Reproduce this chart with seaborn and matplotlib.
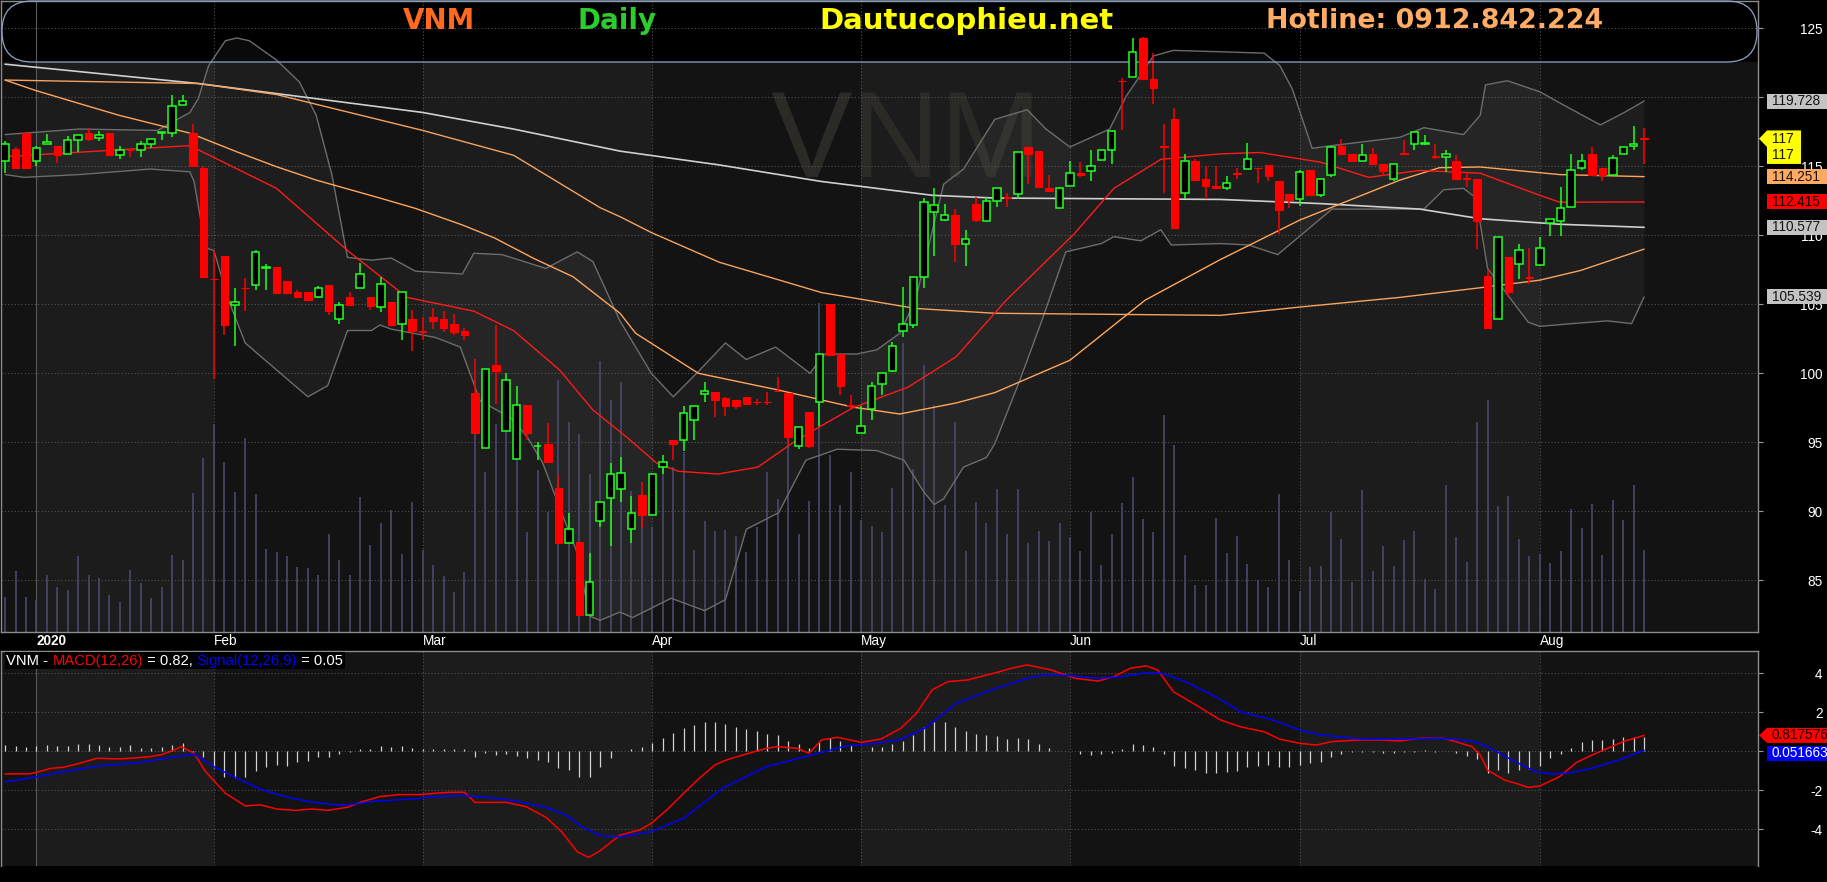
import numpy as np
import matplotlib
matplotlib.use("Agg")
import matplotlib.pyplot as plt
import seaborn as sns
from matplotlib import font_manager, transforms
from matplotlib.patches import FancyBboxPatch, Polygon, Rectangle

# ---------------- data ----------------
ticker = "VNM"
month_idx = [3, 20, 40, 62, 82, 102, 124, 147]
month_lbl = ["2020", "Feb", "Mar", "Apr", "May", "Jun", "Jul", "Aug"]

opens = [115.4, 116.25, 117.4, 115.4, 116.6, 116.5, 115.9, 116.9, 117.4, 117.05,
         117.4, 115.8, 116.2, 116.2, 116.6, 117.4, 117.4, 119.45, 117.4, 114.9,
         106.85, 108.5, 104.95, 106.2, 106.4, 107.65, 107.7, 106.7, 105.9, 105.9,
         105.5, 106.4, 103.9, 105.55, 106.2, 105.5, 104.8, 105.2, 103.6, 103.9,
         103.05, 104.1, 103.9, 103.6, 103.1, 98.6, 94.6, 100.6, 95.8, 93.8,
         97.7, 94.7, 94.85, 91.7, 87.7, 87.8, 82.5, 89.3, 91.0, 91.65,
         88.7, 91.2, 89.7, 93.2, 95.15, 95.2, 96.6, 98.5, 98.65, 98.2,
         98.1, 98.3, 97.95, 97.95, 98.75, 98.6, 94.7, 97.2, 97.9, 105.05,
         101.4, 97.7, 95.65, 97.4, 99.25, 100.2, 103.05, 103.5, 107.0, 111.7,
         111.1, 111.5, 109.4, 112.3, 111.0, 112.5, 112.75, 113.0, 116.4, 116.1,
         113.45, 111.95, 113.55, 114.55, 114.65, 115.45, 116.2, 121.2, 121.45, 124.3,
         121.35, 116.45, 118.4, 113.05, 115.4, 114.1, 113.6, 113.45, 114.5, 114.8,
         114.9, 115.1, 113.9, 113.0, 112.6, 114.75, 112.95, 114.4, 116.5, 115.9,
         115.4, 115.9, 115.2, 114.1, 115.95, 116.65, 116.65, 115.75, 115.65, 115.35,
         114.15, 114.1, 107.05, 103.9, 108.4, 107.9, 106.95, 107.85, 110.9, 111.05,
         112.05, 114.9, 115.9, 114.85, 114.4, 115.9, 116.5, 117.05]
highs = [116.8, 116.4, 117.4, 116.5, 117.35, 116.5, 117.2, 117.25, 117.8, 117.55,
         117.4, 116.5, 116.25, 116.85, 117.0, 117.45, 120.2, 120.2, 118.1, 115.0,
         108.9, 108.5, 106.2, 106.9, 108.9, 107.9, 107.7, 106.7, 106.05, 105.9,
         106.3, 106.4, 105.2, 105.9, 108.0, 105.5, 107.0, 105.2, 105.9, 104.6,
         104.1, 104.7, 104.5, 104.3, 103.3, 101.0, 100.3, 103.5, 100.0, 99.1,
         97.7, 95.0, 96.4, 92.6, 89.9, 87.8, 87.0, 90.7, 93.5, 93.95,
         91.1, 92.1, 92.7, 94.1, 95.15, 97.6, 97.6, 99.4, 98.65, 98.3,
         98.1, 98.3, 98.15, 98.65, 99.75, 98.6, 96.1, 97.2, 101.4, 105.05,
         101.4, 98.4, 97.6, 99.4, 100.05, 102.3, 106.25, 107.0, 112.7, 113.4,
         112.3, 111.9, 110.4, 112.8, 112.8, 113.45, 113.1, 116.0, 116.4, 116.1,
         114.4, 113.5, 115.4, 115.3, 116.2, 116.2, 117.55, 121.4, 124.3, 124.35,
         123.2, 118.1, 119.2, 115.9, 115.55, 115.0, 115.0, 114.3, 114.85, 116.7,
         114.9, 115.1, 113.9, 113.0, 114.75, 114.75, 114.05, 116.45, 117.0, 115.9,
         116.6, 116.3, 115.2, 115.15, 116.9, 117.45, 117.25, 116.6, 116.2, 115.85,
         114.5, 114.1, 107.5, 109.85, 108.4, 109.4, 109.05, 109.85, 111.2, 113.5,
         115.9, 115.9, 116.4, 114.85, 115.8, 116.4, 117.9, 117.8]
lows = [114.5, 114.9, 114.9, 115.0, 116.6, 115.25, 115.9, 116.0, 116.85, 116.85,
        115.8, 115.55, 115.7, 115.7, 116.3, 116.9, 117.1, 119.45, 115.0, 107.0,
        99.6, 102.8, 102.0, 104.5, 106.0, 106.0, 105.8, 105.8, 105.55, 105.3,
        105.45, 104.2, 103.6, 104.95, 106.2, 104.6, 104.45, 103.5, 102.4, 101.6,
        102.4, 103.2, 103.0, 102.8, 102.4, 95.7, 94.6, 97.8, 95.8, 93.8,
        95.2, 93.7, 93.6, 87.7, 87.7, 82.5, 82.5, 88.85, 87.5, 90.7,
        87.7, 88.8, 89.7, 92.7, 93.7, 94.4, 95.2, 97.9, 96.8, 96.9,
        97.4, 97.8, 97.7, 97.7, 98.7, 94.9, 94.5, 94.6, 96.2, 101.3,
        98.4, 97.6, 95.65, 96.6, 98.4, 100.1, 102.6, 103.25, 106.2, 108.5,
        111.05, 108.1, 107.8, 110.95, 111.0, 112.05, 112.05, 112.6, 113.7, 113.5,
        113.2, 111.95, 113.55, 114.25, 113.9, 115.45, 115.2, 117.6, 121.45, 121.25,
        119.5, 113.1, 110.5, 112.6, 113.9, 112.6, 113.45, 113.3, 114.1, 114.8,
        113.8, 113.9, 110.1, 112.0, 112.1, 112.95, 112.8, 114.2, 115.9, 115.4,
        115.4, 115.2, 114.3, 113.9, 115.9, 116.2, 116.55, 115.5, 114.6, 114.05,
        113.5, 109.0, 103.3, 103.9, 105.55, 106.8, 106.5, 107.8, 109.95, 109.95,
        112.05, 114.7, 114.4, 113.95, 114.4, 115.9, 116.2, 115.2]
closes = [116.6, 114.9, 114.9, 116.3, 116.75, 115.8, 116.9, 117.25, 117.0, 117.3,
          115.8, 116.2, 116.15, 116.6, 117.0, 117.45, 119.4, 119.7, 115.0, 107.0,
          106.8, 103.5, 105.2, 106.15, 108.8, 107.7, 105.8, 105.8, 105.55, 105.3,
          106.2, 104.5, 104.95, 104.95, 107.2, 104.9, 106.5, 103.5, 105.9, 103.1,
          103.0, 103.8, 103.3, 103.0, 102.75, 95.7, 100.3, 100.2, 99.5, 97.7,
          95.7, 94.75, 93.6, 87.7, 88.7, 82.5, 84.9, 90.7, 92.7, 92.75,
          89.85, 89.7, 92.7, 93.6, 94.85, 97.1, 97.6, 98.7, 98.1, 97.65,
          97.6, 97.8, 97.9, 97.9, 98.7, 95.4, 96.1, 94.7, 101.4, 101.3,
          99.1, 97.6, 96.2, 99.1, 100.05, 101.95, 103.55, 107.0, 112.4, 112.2,
          111.5, 109.4, 109.75, 111.1, 112.45, 113.45, 112.7, 116.0, 115.9, 113.5,
          113.2, 113.45, 114.55, 114.4, 115.05, 116.2, 117.55, 121.15, 123.3, 121.3,
          120.65, 116.4, 110.5, 115.4, 114.0, 113.6, 113.45, 113.8, 114.45, 115.5,
          114.85, 114.3, 111.8, 112.55, 114.6, 112.95, 114.05, 116.4, 115.9, 115.4,
          115.85, 115.2, 114.65, 115.15, 115.9, 117.45, 116.7, 115.7, 115.9, 114.05,
          114.1, 111.0, 103.3, 109.85, 105.9, 108.9, 106.9, 109.1, 111.2, 112.0,
          114.7, 115.4, 114.4, 114.4, 115.6, 116.4, 116.65, 117.0]
# volume, million shares
volumes = [0.70, 1.22, 0.70, 0.64, 1.14, 0.90, 0.84, 1.52, 1.14, 1.08,
           0.74, 0.60, 1.24, 0.98, 0.68, 0.90, 1.54, 1.44, 2.78, 3.48,
           4.16, 3.40, 2.80, 3.88, 2.76, 1.66, 1.60, 1.52, 1.30, 1.28,
           1.14, 1.96, 1.44, 1.14, 2.70, 1.74, 2.18, 2.44, 1.56, 2.60,
           1.64, 1.34, 1.12, 0.80, 1.20, 4.40, 3.20, 4.16, 4.20, 3.50,
           2.00, 3.24, 2.40, 5.04, 4.20, 3.96, 3.16, 5.42, 4.64, 5.00,
           2.82, 2.80, 2.10, 3.30, 3.30, 3.60, 1.64, 2.22, 2.02, 2.04,
           1.92, 1.60, 2.10, 3.20, 2.66, 3.86, 1.96, 2.62, 6.58, 3.54,
           2.54, 3.20, 2.24, 2.12, 2.00, 2.88, 5.78, 3.26, 5.34, 4.54,
           2.54, 4.20, 1.62, 2.60, 2.18, 2.86, 1.96, 2.86, 1.78, 2.02,
           1.82, 2.18, 1.90, 1.62, 2.40, 1.34, 1.96, 2.58, 3.10, 2.26,
           2.00, 4.34, 3.74, 1.54, 0.94, 0.94, 2.28, 1.58, 1.92, 1.36,
           1.04, 0.90, 2.76, 1.44, 0.82, 1.30, 1.32, 2.40, 1.86, 1.00,
           2.84, 1.22, 1.72, 1.32, 1.84, 2.02, 1.06, 0.86, 2.94, 1.90,
           1.40, 4.20, 4.64, 2.52, 2.72, 1.86, 1.52, 1.56, 1.38, 1.62,
           2.46, 2.08, 2.56, 1.54, 2.64, 2.24, 2.94, 1.64]
vol_axis_top = 12.62

ma20_idx = [0, 17.7, 18.5, 26, 32.8, 38.5, 44.9, 48.7, 53.1, 56.3, 59.5, 62.4, 64.5, 68.3, 72.1,
            75.9, 81.2, 86.5, 91.1, 95.9, 102.4, 106.2, 110.7, 116.4, 120.2, 126, 130.6, 135.5,
            141.3, 147, 148.9, 157]
ma20_val = [115.7, 116.5, 116.2, 113.4, 108.9, 105.5, 104.5, 103.1, 100.25, 97.35, 95.4, 93.5, 92.9, 92.7, 93.2,
            95.2, 97.5, 99.0, 101.2, 105.3, 110.1, 113.4, 115.5, 115.9, 116.0, 115.3, 114.2, 114.7,
            114.5, 112.9, 112.4, 112.415]
ma50_idx = [0, 2.9, 7.1, 10.9, 14.6, 17.7, 22.2, 26, 29.8, 35.9, 39.3, 43.8, 46.9, 50.7, 54.4,
            58.9, 60.4, 66.4, 74, 81.2, 85.7, 91.1, 94.8, 102, 109.2, 116.3, 124, 133.6, 137.4,
            141.3, 148.9, 157]
ma50_val = [121.25, 120.5, 119.55, 118.7, 118.0, 117.4, 116.05, 114.97, 114.0, 112.7, 111.95, 110.75,
            109.8, 108.3, 107.0, 104.35, 102.9, 100.0, 98.8, 97.55, 97.05, 97.85, 98.6, 100.95,
            105.3, 108.2, 111.1, 114.0, 114.9, 114.95, 114.4, 114.251]
ma100_idx = [0, 18.5, 26, 40, 48.7, 57, 58.9, 61.9, 68.4, 78.2, 87.2, 94.8, 116.4, 124, 133.6,
             141.3, 147, 150.9, 157]
ma100_val = [121.25, 121.0, 120.2, 117.6, 115.8, 112.0, 111.35, 110.2, 108.05, 105.85, 104.7, 104.35,
             104.2, 104.8, 105.5, 106.2, 106.75, 107.45, 109.0]
ma200_idx = [0, 18.5, 29.8, 40, 48.7, 58.9, 68.4, 78.2, 88.8, 94.8, 116.4, 125.9, 135.5, 141.3,
             148.9, 157]
ma200_val = [122.4, 121.0, 119.9, 118.9, 117.7, 116.1, 115.1, 113.9, 112.9, 112.7, 112.6, 112.3,
             111.9, 111.2, 110.8, 110.577]
bbu_idx = [0, 7.1, 14.6, 17.7, 18.5, 19.5, 21.1, 22.2, 23.4, 26, 28.2, 29.8, 31.3, 32.8, 35.1,
           37, 39.3, 43.8, 44.9, 47.6, 51.8, 54.8, 56.3, 58.9, 61.9, 64, 66.5, 69, 71, 73.8,
           77.1, 78.5, 81.6, 83.5, 85.7, 87.2, 89.9, 91.8, 94.8, 97.9, 99.7, 102, 105.8, 107.4,
           110, 111.9, 116.4, 120.6, 122.1, 123.3, 125.2, 127.1, 133.6, 135.9, 139.7, 141.3,
           141.8, 143.9, 147, 148.9, 152.8, 155.1, 157]
bbu_val = [117.3, 117.7, 117.6, 118.9, 119.9, 122.3, 124.1, 124.3, 124.1, 122.7, 121.1, 118.7,
           114.4, 108.4, 108.2, 108.35, 107.4, 107.2, 108.7, 108.6, 107.6, 108.8, 108.1, 103.8,
           100.0, 98.3, 100.2, 102.2, 101.0, 101.9, 100.0, 101.4, 101.4, 101.7, 102.9, 105.3,
           113.7, 114.8, 118.4, 119.1, 117.7, 116.4, 117.7, 120.1, 123.0, 123.4, 123.3, 123.2,
           122.3, 120.6, 116.3, 116.5, 117.1, 117.8, 117.3, 118.7, 120.9, 121.2, 120.4, 119.6,
           118.0, 118.9, 119.728]
bbl_idx = [0, 1.8, 7.1, 13.9, 17.7, 18.1, 19.2, 20, 21.4, 23, 25.3, 29, 30.9, 32.8, 35.1, 35.9,
           37, 41.2, 43.6, 45.5, 48.4, 50, 51.5, 53.1, 54.7, 56, 57, 58.9, 60.1, 63.8, 67, 69,
           71, 74.1, 76.7, 79.7, 83.5, 86.1, 88, 89, 89.9, 91.8, 94, 94.8, 97.1, 99.3, 101.6,
           105, 106.2, 108.8, 110.7, 111.7, 116.4, 119.1, 121.9, 127.1, 135.9, 137.8, 139.7,
           140.9, 142, 144.3, 145.9, 147, 150.1, 153.5, 155.8, 157]
bbl_val = [114.4, 114.2, 114.4, 114.8, 114.6, 113.9, 109.1, 108.9, 105.3, 102.2, 100.7, 98.3,
           99.1, 103.1, 103.1, 103.5, 103.2, 102.6, 101.9, 98.0, 96.8, 95.4, 93.5, 90.3, 87.2,
           82.4, 82.1, 82.7, 82.3, 83.7, 82.8, 83.6, 88.7, 89.9, 93.7, 94.5, 94.4, 93.7, 91.4,
           90.5, 90.9, 93.2, 93.9, 94.9, 99.3, 103.8, 108.8, 109.4, 109.9, 109.6, 110.4, 109.3,
           109.4, 109.3, 108.6, 111.9, 111.9, 113.3, 113.4, 112.7, 107.6, 105.3, 103.7, 103.4,
           103.6, 103.8, 103.6, 105.539]

macd_now, signal_now = 0.817576, 0.051663
macd_idx = [0, 2.2, 2.9, 4.4, 5.6, 7.1, 8.8, 10.9, 12, 13.9, 15, 16.2, 16.9, 18.1, 19.2, 21.1,
            23, 24.5, 26, 27.9, 29.4, 30.9, 32.8, 34, 35.9, 37.8, 39.7, 41.2, 42.7, 44, 45, 48,
            49.9, 51.8, 53.3, 54.8, 55.9, 57, 58.9, 60.8, 61.9, 63.4, 65, 66.5, 68, 69.1, 71,
            72.9, 74, 75.9, 77, 78.2, 79.7, 82, 83.9, 85.8, 87.3, 88.8, 90.3, 92.2, 94.9, 96.4,
            97.9, 100.2, 102.5, 104.7, 106.2, 107.8, 109.3, 110.4, 111.9, 113.8, 116.4, 118.3,
            120.6, 122.1, 124, 125.6, 127.1, 129.8, 131.7, 133.6, 135.5, 137.8, 138.9, 140.5,
            141.3, 142, 143.6, 144.7, 145.9, 147, 148.9, 150.5, 152, 153.5, 155, 157]
macd_val = [-1.16, -1.16, -1.1, -0.87, -0.82, -0.62, -0.36, -0.39, -0.36, -0.27, -0.17, 0.07, 0.24,
            -0.1, -1.04, -2.15, -2.8, -2.75, -2.96, -3.03, -2.96, -3.03, -2.87, -2.62, -2.32,
            -2.22, -2.22, -2.15, -2.1, -2.1, -2.62, -2.62, -2.84, -3.38, -4.12, -5.15, -5.44,
            -5.1, -4.3, -4.03, -3.69, -3.0, -2.15, -1.38, -0.7, -0.44, -0.14, 0.15, 0.24, 0.15,
            -0.1, 0.58, 0.72, 0.46, 0.63, 1.18, 1.95, 3.15, 3.57, 3.66, 4.03, 4.26, 4.43, 4.17,
            3.74, 3.6, 3.83, 4.26, 4.38, 4.17, 3.06, 2.46, 1.61, 1.26, 1.0, 0.62, 0.41, 0.32,
            0.5, 0.58, 0.58, 0.53, 0.67, 0.67, 0.5, 0.24, -0.19, -0.96, -1.47, -1.64, -1.85,
            -1.78, -1.3, -0.58, -0.19, 0.15, 0.5, macd_now]
signal_idx = [0, 2.9, 5.2, 9, 12.8, 15.4, 18.1, 20, 22.2, 24.5, 26.8, 29.1, 31.7, 32.8, 35.1,
              37.4, 39.7, 41.2, 44, 46.9, 48.7, 51.8, 53.7, 55.2, 57.1, 58.9, 61.9, 65, 68.7,
              72.9, 76.7, 80.5, 83.5, 85.8, 88.1, 91.1, 94.9, 97.9, 99.8, 102.5, 104.7, 107,
              109.3, 110.8, 113.1, 116.4, 118.3, 121.4, 124, 126, 129.8, 133.6, 137.4, 140.5,
              142, 144.3, 146.6, 148.1, 149.7, 152, 154.3, 157]
signal_val = [-1.57, -1.32, -1.09, -0.75, -0.58, -0.36, -0.14, -0.79, -1.38, -1.95, -2.32, -2.58,
              -2.75, -2.75, -2.58, -2.5, -2.41, -2.32, -2.27, -2.41, -2.53, -2.87, -3.26, -3.86,
              -4.34, -4.38, -4.12, -3.44, -1.9, -0.79, -0.27, 0.27, 0.41, 0.62, 1.18, 2.46, 3.23,
              3.74, 3.95, 3.86, 3.74, 3.83, 4.03, 4.0, 3.57, 2.67, 2.03, 1.61, 1.09, 0.84, 0.63,
              0.62, 0.67, 0.53, 0.24, -0.44, -1.04, -1.16, -1.13, -0.87, -0.5, signal_now]
hist = [0.31, 0.27, 0.24, 0.27, 0.31, 0.29, 0.29, 0.38, 0.38, 0.34,
        0.24, 0.24, 0.32, 0.19, 0.19, 0.24, 0.32, 0.43, -0.03, -0.27,
        -0.87, -1.3, -1.35, -1.3, -0.99, -0.79, -0.7, -0.75, -0.53, -0.5,
        -0.27, -0.27, -0.15, -0.03, 0.1, 0.12, 0.27, 0.2, 0.27, 0.17,
        0.14, 0.12, 0.14, 0.1, 0.12, -0.27, -0.1, -0.19, -0.14, -0.24,
        -0.34, -0.44, -0.53, -0.87, -0.96, -1.33, -1.33, -0.82, -0.36, 0.02,
        0.14, 0.2, 0.44, 0.7, 0.96, 1.2, 1.35, 1.52, 1.52, 1.4,
        1.26, 1.15, 1.04, 0.89, 0.84, 0.55, 0.38, 0.17, 0.48, 0.67,
        0.53, 0.32, 0.02, 0.2, 0.24, 0.39, 0.55, 0.84, 1.26, 1.5,
        1.5, 1.25, 1.04, 0.89, 0.82, 0.79, 0.65, 0.7, 0.65, 0.38,
        0.19, 0.02, 0.03, -0.14, -0.17, -0.14, -0.07, 0.12, 0.38, 0.32,
        0.24, -0.14, -0.74, -0.84, -0.97, -1.09, -1.09, -1.04, -0.99, -0.79,
        -0.74, -0.7, -0.79, -0.79, -0.7, -0.58, -0.53, -0.27, -0.14, -0.03,
        -0.03, -0.03, -0.07, -0.07, -0.03, -0.03, 0.07, -0.03, 0.0, -0.1,
        -0.22, -0.41, -1.09, -0.96, -1.13, -0.96, -0.92, -0.74, -0.36, -0.14,
        0.17, 0.48, 0.58, 0.58, 0.63, 0.72, 0.72, 0.75]

# ---------------- style ----------------
sns.set_theme(style="dark", rc={"figure.facecolor": "black", "axes.facecolor": "#1c1c1c",
                                "savefig.facecolor": "black"})
fonts = {f.name for f in font_manager.fontManager.ttflist}
NARROW = "Liberation Sans Narrow" if "Liberation Sans Narrow" in fonts else "Liberation Sans"
FS = 11.5 if NARROW.endswith("Narrow") else 9.8
plt.rcParams["font.family"] = [NARROW, "DejaVu Sans"]

GREEN, RED, BLUE = "#22ff22", "#ff0000", "#0000ff"
LIGHT, DARK = "#1c1c1c", "#131313"
GRID = "#525252"

W, H = 1827, 882
fig = plt.figure(figsize=(W / 100, H / 100), dpi=100, facecolor="black")


def px_rect(x0, y0, x1, y1):
    return [x0 / W, 1 - y1 / H, (x1 - x0) / W, (y1 - y0) / H]


ax = fig.add_axes(px_rect(1, 1, 1758, 632))
ax2 = fig.add_axes(px_rect(1, 651, 1758, 866), sharex=ax)

# bar i sits at pixel 36.4 + (i-3)*10.44 ; price p at 28.3 + (125-p)*13.8 ; macd v at 751.3 - 19.5 v
xlim = ((1 - 36.4) / 10.44 + 3, (1758 - 36.4) / 10.44 + 3)
ylim = (125 - (632 - 28.3) / 13.8, 125 + (28.3 - 1) / 13.8)
header_bottom = 125 - (62 - 28.3) / 13.8
ylim2 = (-(866 - 751.3) / 19.5, (751.3 - 651) / 19.5)

o, h, l, c = map(np.array, (opens, highs, lows, closes))
idx = np.arange(len(c))
up = c > o

# month shading
bounds = [xlim[0] - 1] + month_idx + [xlim[1] + 1]
for k in range(len(bounds) - 1):
    for a in (ax, ax2):
        a.axvspan(bounds[k], bounds[k + 1], color=DARK if k % 2 == 0 else LIGHT, lw=0, zorder=0.1)
ax.axhspan(header_bottom, ylim[1] + 5, color="black", lw=0, zorder=0.2)

ax.text(0.515, 0.772, ticker, transform=ax.transAxes, fontsize=88, color="#2b2a26",
        family="Liberation Sans", ha="center", va="center", zorder=0.3)

# volume
ax.vlines(idx, 0, np.array(volumes) / vol_axis_top, transform=ax.get_xaxis_transform(),
          color="#48486e", lw=1.2, zorder=1)

# bollinger fill + lines
ax.fill(np.r_[bbu_idx, bbl_idx[::-1]], np.r_[bbu_val, bbl_val[::-1]], color="white",
        alpha=0.045, lw=0, zorder=0.7)
for xs, ys, col, lw in [(bbu_idx, bbu_val, "#6c6c6c", 1.0), (bbl_idx, bbl_val, "#6c6c6c", 1.0),
                        (ma200_idx, ma200_val, "#cfcfcf", 1.2), (ma100_idx, ma100_val, "#f5a35f", 1.0),
                        (ma50_idx, ma50_val, "#ffa55a", 1.0), (ma20_idx, ma20_val, "#ff1a1a", 1.0)]:
    sns.lineplot(x=xs, y=ys, ax=ax, color=col, lw=lw, zorder=3)

# candles
ax.vlines(idx, l, h, colors=np.where(up, GREEN, RED), lw=1.1, zorder=4)
ax.bar(idx[up], (c - o)[up], bottom=o[up], width=0.72, facecolor="black",
       edgecolor=GREEN, lw=1.1, zorder=5)
ax.bar(idx[~up], (o - c)[~up], bottom=c[~up], width=0.72, facecolor=RED,
       edgecolor=RED, lw=0.8, zorder=5)

# header
bracket = FancyBboxPatch((2, H - 62), 1755, 61, boxstyle="round,pad=0,rounding_size=30",
                         transform=transforms.IdentityTransform(), fc="none", ec="#8ea4c8",
                         lw=0.9, zorder=4.5)
ax.add_artist(bracket)
bracket.set_clip_on(False)
for s, x, col, fs in [("VNM", 403, "#ff6a1f", 20), ("Daily", 577, "#2dcc2d", 20),
                      ("Dautucophieu.net", 819, "#ffff00", 21), ("Hotline: 0912.842.224", 1266, "#ffad66", 19.4)]:
    fig.text(x / W, 1 - 21 / H, s, color=col, fontsize=fs, fontweight="bold",
             family="DejaVu Sans", ha="left", va="center")

# MACD panel
ax2.vlines(idx, 0, hist, color="#d2d2d2", lw=0.9, zorder=2)
sns.lineplot(x=macd_idx, y=macd_val, ax=ax2, color=RED, lw=1.1, zorder=3)
sns.lineplot(x=signal_idx, y=signal_val, ax=ax2, color=BLUE, lw=1.1, zorder=3)

LFS = FS * 1.08
pieces = [(f"{ticker} - ", "white"), ("MACD(12,26)", RED), (f" = {macd_now:.2f}, ", "white"),
          ("Signal(12,26,9)", BLUE), (f" = {signal_now:.2f}", "white")]
t = ax2.text(0.003, 0.955, pieces[0][0], color=pieces[0][1], transform=ax2.transAxes,
             fontsize=LFS, ha="left", va="center", zorder=8,
             bbox=dict(boxstyle="square,pad=0.12", fc="black", ec="none"))
for s, col in pieces[1:]:
    t = ax2.annotate(s, xy=(1, 0.5), xycoords=t, color=col, fontsize=LFS, ha="left",
                     va="center", zorder=8, bbox=dict(boxstyle="square,pad=0.12", fc="black", ec="none"))

# axes, ticks, grid
for a in (ax, ax2):
    a.set_xlabel("")
    a.set_ylabel("")
    a.set_axisbelow(True)
    a.grid(True, color=GRID, linestyle=(0, (1, 2)), linewidth=0.8)
    for s in a.spines.values():
        s.set_color("#8c8c8c")
        s.set_linewidth(1.0)
    a.yaxis.tick_right()
    a.tick_params(axis="y", which="major", length=3.6, width=0.8, color="#9a9a9a",
                  labelcolor="white", labelsize=FS, pad=43)
ax2.spines["bottom"].set_visible(False)

ax.set_xticks(month_idx)
ax.set_xticklabels(month_lbl)
ax.tick_params(axis="x", length=0, labelcolor="white", labelsize=FS, pad=1.5)
ax2.tick_params(axis="x", length=0, labelbottom=False)
price_ticks = list(range(85, 126, 5))
macd_ticks = [-4, -2, 0, 2, 4]
ax.set_yticks(price_ticks)
# 120 and 0 sit fully behind the value boxes in the reference
ax.set_yticklabels(["" if v == 120 else str(v) for v in price_ticks])
ax2.set_yticks(macd_ticks)
ax2.set_yticklabels(["" if v == 0 else str(v) for v in macd_ticks])
for a in (ax, ax2):
    for lbl in a.get_yticklabels():
        lbl.set_horizontalalignment("right")
    a.get_xgridlines()[0].set_linestyle("-")
    a.get_xgridlines()[0].set_color("#5a5a5a")
for lbl in ax.get_xticklabels():
    lbl.set_horizontalalignment("left")
ax.get_xticklabels()[0].set_fontweight("bold")

# right-hand value labels
ytr = ax.get_yaxis_transform()
x_box, x_txt, box_w = (1767 - 1) / 1757, (1772 - 1) / 1757, 70 / 1757
for val, fc, tc in [(bbu_val[-1], "#c3c3c3", "#141414"), (ma50_val[-1], "#ffa862", "#141414"),
                    (ma20_val[-1], RED, "#140000"), (ma200_val[-1], "#c3c3c3", "#141414"),
                    (bbl_val[-1], "#c3c3c3", "#141414")]:
    ax.add_patch(Rectangle((x_box, val - 15 / 13.8 / 2), box_w, 15 / 13.8, transform=ytr,
                           fc=fc, ec="none", clip_on=False, zorder=6))
    ax.text(x_txt, val, f"{val:.3f}", transform=ytr, color=tc, fontsize=FS, ha="left",
            va="center", clip_on=False, zorder=7)

last = closes[-1]
x_tip, x_body, x_end = (1759 - 1) / 1757, (1767 - 1) / 1757, (1801 - 1) / 1757
ax.add_patch(Polygon([(x_tip, last), (x_body, last + 0.6), (x_end, last + 0.6), (x_end, last - 1.83),
                      (x_body, last - 1.83), (x_body, last - 0.6)], closed=True, transform=ytr,
                     fc="#ffff00", ec="none", clip_on=False, zorder=6))
for dy in (0, -1.2):
    ax.text(x_txt, last + dy, f"{last:g}", transform=ytr, color="#141414", fontsize=FS,
            ha="left", va="center", clip_on=False, zorder=7)

ytr2 = ax2.get_yaxis_transform()
bh = 15 / 19.5
ax2.add_patch(Polygon([(x_tip, macd_now), (x_body, macd_now + bh / 2), (x_body + box_w, macd_now + bh / 2),
                       (x_body + box_w, macd_now - bh / 2), (x_body, macd_now - bh / 2)],
                      closed=True, transform=ytr2, fc=RED, ec="none", clip_on=False, zorder=6))
ax2.text(x_txt, macd_now, f"{macd_now:.6f}", transform=ytr2, color="#140000", fontsize=FS,
         ha="left", va="center", clip_on=False, zorder=7)
sig_y = signal_now - 0.14
ax2.add_patch(Rectangle((x_box, sig_y - bh / 2), box_w, bh, transform=ytr2, fc=BLUE, ec="none",
                        clip_on=False, zorder=6))
ax2.text(x_txt, sig_y, f"{signal_now:.6f}", transform=ytr2, color="white", fontsize=FS,
         ha="left", va="center", clip_on=False, zorder=7)

ax.set_xlim(*xlim)
ax.set_ylim(*ylim)
ax2.set_ylim(*ylim2)

fig.savefig("out.png", dpi=100, facecolor="black")
